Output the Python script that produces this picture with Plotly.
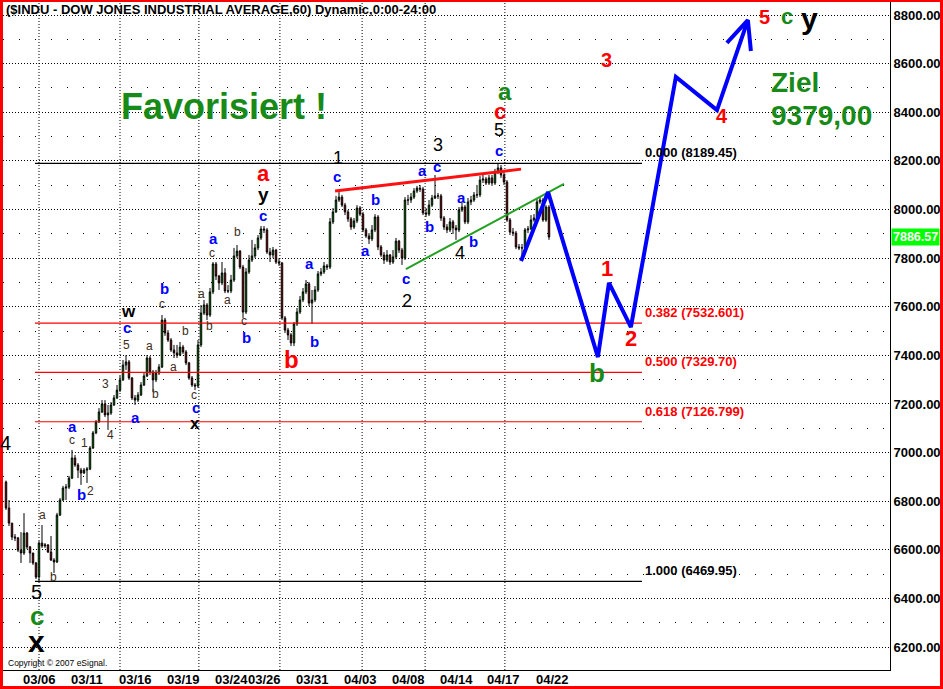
import plotly.graph_objects as go

# ---------------- data ----------------
first_open = 6879
closes = [6772, 6710, 6653, 6649, 6599, 6587, 6669, 6612, 6587, 6546,
          6488, 6628, 6616, 6620, 6591, 6558, 6550, 6743, 6805, 6854,
          6858, 6895, 6978, 6949, 6928, 6916, 6928, 6932, 7019, 7081,
          7126, 7167, 7200, 7155, 7163, 7196, 7225, 7257, 7299, 7360,
          7373, 7307, 7225, 7216, 7237, 7278, 7315, 7389, 7332, 7299,
          7327, 7352, 7545, 7492, 7463, 7422, 7410, 7401, 7434, 7414,
          7369, 7307, 7278, 7274, 7443, 7574, 7607, 7566, 7661, 7776,
          7726, 7698, 7739, 7665, 7665, 7710, 7809, 7829, 7763, 7578,
          7743, 7792, 7809, 7842, 7883, 7920, 7916, 7825, 7813, 7833,
          7784, 7780, 7554, 7504, 7484, 7451, 7529, 7578, 7628, 7661,
          7694, 7615, 7628, 7669, 7735, 7743, 7768, 7763, 7949, 7990,
          8039, 8051, 8018, 7990, 7961, 7928, 7953, 8006, 7981, 7916,
          7891, 7879, 7916, 7969, 7846, 7813, 7792, 7813, 7784, 7805,
          7870, 7833, 7800, 8039, 8039, 8051, 8076, 8088, 8084, 7986,
          7981, 8018, 8047, 8056, 8056, 7965, 7928, 7916, 7949, 7924,
          7916, 7998, 8010, 7949, 8031, 8039, 8060, 8060, 8121, 8125,
          8109, 8130, 8109, 8154, 8171, 8142, 8113, 7957, 7907, 7903,
          7846, 7842, 7842, 7916, 7920, 7957, 7965, 8031, 8039, 7957,
          8010, 7886.57]
highs = [6885, 6805, 6710, 6665, 6653, 6673, 6751, 6673, 6616, 6575,
         6550, 6636, 6702, 6628, 6624, 6657, 6566, 6752, 6813, 6863,
         6871, 6904, 7011, 6990, 6957, 6937, 6937, 6941, 7027, 7089,
         7134, 7183, 7216, 7216, 7196, 7208, 7237, 7278, 7315, 7381,
         7401, 7381, 7311, 7237, 7249, 7290, 7327, 7401, 7397, 7340,
         7340, 7364, 7566, 7554, 7504, 7471, 7443, 7443, 7455, 7443,
         7422, 7373, 7315, 7286, 7463, 7607, 7628, 7615, 7677, 7784,
         7784, 7731, 7784, 7759, 7689, 7731, 7842, 7854, 7833, 7772,
         7759, 7813, 7875, 7858, 7895, 7932, 7932, 7924, 7842, 7846,
         7838, 7800, 7784, 7562, 7513, 7492, 7537, 7595, 7644, 7677,
         7710, 7702, 7669, 7685, 7747, 7759, 7784, 7776, 7965, 8006,
         8056, 8076, 8060, 8027, 7998, 7969, 7965, 8018, 8014, 7990,
         7924, 7903, 7936, 7981, 7977, 7854, 7825, 7833, 7817, 7833,
         7883, 7875, 7842, 8051, 8060, 8068, 8088, 8097, 8101, 8093,
         8006, 8039, 8060, 8142, 8068, 8064, 7973, 7940, 7965, 7957,
         7936, 8010, 8031, 8018, 8047, 8056, 8072, 8101, 8138, 8142,
         8134, 8142, 8142, 8167, 8189.45, 8183, 8154, 8121, 7965, 7924,
         7912, 7858, 7858, 7924, 7932, 7977, 7981, 8043, 8051, 8047,
         8018, 8018]
lows = [6764, 6698, 6640, 6636, 6591, 6546, 6579, 6603, 6546, 6538,
        6480, 6469.95, 6608, 6608, 6587, 6554, 6505, 6546, 6739, 6801,
        6805, 6850, 6891, 6941, 6895, 6867, 6912, 6875, 6928, 7015,
        7076, 7122, 7163, 7146, 7093, 7155, 7192, 7220, 7249, 7295,
        7340, 7299, 7216, 7196, 7208, 7233, 7274, 7311, 7319, 7249,
        7290, 7319, 7348, 7480, 7455, 7414, 7389, 7389, 7397, 7406,
        7360, 7299, 7270, 7257, 7266, 7434, 7566, 7545, 7558, 7652,
        7710, 7669, 7689, 7656, 7656, 7656, 7702, 7800, 7755, 7554,
        7570, 7735, 7784, 7800, 7833, 7875, 7903, 7817, 7784, 7800,
        7776, 7768, 7545, 7492, 7463, 7438, 7438, 7521, 7570, 7619,
        7652, 7603, 7529, 7619, 7661, 7726, 7735, 7751, 7755, 7940,
        7986, 8031, 8010, 7977, 7949, 7916, 7920, 7944, 7973, 7907,
        7883, 7858, 7870, 7907, 7833, 7805, 7776, 7784, 7772, 7776,
        7796, 7821, 7772, 7792, 8018, 8027, 8043, 8068, 8072, 7977,
        7969, 7973, 8010, 8043, 8043, 7953, 7916, 7903, 7907, 7899,
        7875, 7907, 7990, 7940, 7940, 8018, 8031, 8047, 8051, 8109,
        8101, 8101, 8097, 8101, 8146, 8130, 8101, 7949, 7895, 7891,
        7837, 7833, 7800, 7833, 7903, 7916, 7949, 7957, 8023, 7949,
        7949, 7875]
opens = [first_open] + closes[:-1]
bar_idx = list(range(len(closes)))
last_price = 7886.57

tick_pos = [11, 27, 43, 59, 75, 86, 102.3, 118.3, 134.3, 150.3, 166, 182.3]
tick_text = ["03/06", "03/11", "03/16", "03/19", "03/24", "03/26", "03/31",
             "04/03", "04/08", "04/14", "04/17", "04/22"]
week_lines = [11, 38, 64.3, 91.3, 118.7, 139.7, 166.3]

fib_levels = [8189.45, 7532.601, 7329.70, 7126.799, 6469.95]
fib_text = ["0.000 (8189.45)", "0.382 (7532.601)", "0.500 (7329.70)",
            "0.618 (7126.799)", "1.000 (6469.95)"]
fib_colors = ["black", "red", "red", "red", "black"]
fib_span = [9.67, 212]

red_trend_x = [109.7, 171.7]
red_trend_y = [8076, 8166]
green_trend_x = [133.3, 186]
green_trend_y = [7755, 8105]
proj_x = [171.7, 180.7, 197.3, 201, 208.3, 223.3, 237, 247.3]
proj_y = [7788, 8072, 7393, 7698, 7516, 8545, 8409, 8779]
arrow_x = [240.3, 247.3, 248.3]
arrow_y = [8685, 8779, 8652]

BLUE = "#0000ff"
BROWN = "#3d2b1a"
RED = "#ff0000"
GREEN = "#178a17"
BLACK = "#000000"

# (text, x, y, color, size, bold)
wave_labels = [
    ("4", -0.3, 7039, BLACK, 20, False),
    ("5", 10.3, 6427, BLACK, 20, False),
    ("c", 10.3, 6326, GREEN, 26, True),
    ("x", 10.3, 6222, BLACK, 30, True),
    ("a", 12, 6743, BROWN, 12, False),
    ("b", 15.7, 6488, BROWN, 12, False),
    ("a", 22.3, 7109, BLUE, 15, True),
    ("c", 22, 7052, BROWN, 12, False),
    ("1", 26, 7039, BROWN, 12, False),
    ("b", 25.3, 6826, BLUE, 15, True),
    ("2", 28.3, 6842, BROWN, 12, False),
    ("4", 34.7, 7072, BROWN, 12, False),
    ("3", 33.3, 7282, BROWN, 12, False),
    ("a", 43, 7146, BLUE, 15, True),
    ("5", 40, 7443, BROWN, 12, False),
    ("c", 40.3, 7513, BLUE, 15, True),
    ("w", 40.7, 7582, BLACK, 17, True),
    ("b", 49.7, 7241, BROWN, 12, False),
    ("a", 47.7, 7438, BROWN, 12, False),
    ("b", 52.7, 7673, BLUE, 15, True),
    ("c", 52, 7611, BROWN, 12, False),
    ("a", 55.7, 7352, BROWN, 12, False),
    ("b", 59.7, 7500, BROWN, 12, False),
    ("c", 62.7, 7237, BROWN, 12, False),
    ("c", 63.3, 7185, BLUE, 15, True),
    ("x", 63, 7118, BLACK, 17, True),
    ("a", 65.3, 7652, BROWN, 12, False),
    ("b", 67.7, 7521, BROWN, 12, False),
    ("a", 69, 7879, BLUE, 15, True),
    ("c", 68.7, 7821, BROWN, 12, False),
    ("b", 77, 7907, BROWN, 12, False),
    ("a", 73.7, 7628, BROWN, 12, False),
    ("c", 79.3, 7541, BROWN, 12, False),
    ("b", 80, 7475, BLUE, 15, True),
    ("a", 85.7, 8150, RED, 22, True),
    ("y", 85.7, 8060, BLACK, 19, True),
    ("c", 85.7, 7977, BLUE, 15, True),
    ("a", 101, 7776, BLUE, 15, True),
    ("b", 95.3, 7381, RED, 24, True),
    ("b", 102.7, 7455, BLUE, 15, True),
    ("1", 110.7, 8212, BLACK, 18, False),
    ("c", 110.3, 8134, BLUE, 15, True),
    ("b", 123.3, 8043, BLUE, 15, True),
    ("a", 119.7, 7833, BLUE, 15, True),
    ("c", 133.3, 7718, BLUE, 15, True),
    ("2", 133.7, 7624, BLACK, 18, False),
    ("3", 144, 8265, BLACK, 18, False),
    ("a", 138.7, 8162, BLUE, 15, True),
    ("c", 143.7, 8175, BLUE, 15, True),
    ("b", 141.3, 7928, BLUE, 15, True),
    ("a", 151.7, 8051, BLUE, 15, True),
    ("b", 156, 7870, BLUE, 15, True),
    ("4", 151.3, 7821, BLACK, 18, False),
    ("c", 164.3, 8243, BLUE, 15, True),
    ("5", 164.3, 8325, BLACK, 18, False),
    ("c", 164.7, 8403, RED, 22, True),
    ("a", 166.3, 8485, GREEN, 24, True),
    ("1", 200.3, 7759, RED, 22, True),
    ("2", 208.3, 7471, RED, 22, True),
    ("b", 197, 7327, GREEN, 26, True),
    ("3", 200.3, 8615, RED, 20, True),
    ("4", 238.7, 8385, RED, 20, True),
    ("5", 252.7, 8792, RED, 20, True),
    ("c", 260.3, 8792, GREEN, 22, True),
    ("y", 268, 8784, BLACK, 30, True),
]

FONT = "Liberation Sans, Arial, sans-serif"

# ---------------- geometry helpers (figure pixels -> paper) ----------------
W, H = 943, 689
L, R, T, B = 3, 53, 2, 19
pw, ph = W - L - R, H - T - B


def px(xp):
    return (xp - L) / pw


def py(yp):
    return (H - B - yp) / ph


# ---------------- figure ----------------
fig = go.Figure()

for lvl, col in zip(fib_levels, fib_colors):
    fig.add_trace(go.Scatter(x=fib_span, y=[lvl, lvl], mode="lines",
                             line=dict(color=col, width=1.2), hoverinfo="skip"))

fig.add_trace(go.Candlestick(
    x=bar_idx, open=opens, high=highs, low=lows, close=closes,
    increasing=dict(line=dict(color="black", width=1), fillcolor="#00cc00"),
    decreasing=dict(line=dict(color="black", width=1), fillcolor="#ee0000"),
    whiskerwidth=0, hoverinfo="skip"))

fig.add_trace(go.Scatter(x=red_trend_x, y=red_trend_y, mode="lines",
                         line=dict(color="#ff1010", width=3), hoverinfo="skip"))
fig.add_trace(go.Scatter(x=green_trend_x, y=green_trend_y, mode="lines",
                         line=dict(color="#22a022", width=2), hoverinfo="skip"))
fig.add_trace(go.Scatter(x=proj_x, y=proj_y, mode="lines",
                         line=dict(color="#0000ff", width=4), hoverinfo="skip"))
fig.add_trace(go.Scatter(x=arrow_x, y=arrow_y, mode="lines",
                         line=dict(color="#0000ff", width=4), hoverinfo="skip"))

for wx in week_lines:
    fig.add_vline(x=wx, line=dict(color="black", width=1, dash="1px,2px"), layer="below")

# date labels under the axis
for tp, tt in zip(tick_pos, tick_text):
    fig.add_annotation(x=tp, xref="x", yref="paper", y=py(679), text="<b>%s</b>" % tt,
                       showarrow=False, xanchor="center", yanchor="middle",
                       font=dict(family=FONT, size=13, color="black"))

# fib labels
for lvl, txt, col in zip(fib_levels, fib_text, fib_colors):
    fig.add_annotation(x=212.3, y=lvl, text="<b>%s</b>" % txt, showarrow=False,
                       xanchor="left", yanchor="bottom", yshift=1,
                       font=dict(family=FONT, size=13, color=col))

for txt, xx, yy, col, sz, bold in wave_labels:
    t = "<b>%s</b>" % txt if bold else txt
    fig.add_annotation(x=xx, y=yy, text=t, showarrow=False, xanchor="center",
                       yanchor="middle", font=dict(family=FONT, size=sz, color=col))

fig.add_annotation(x=37.7, y=8422, text="<b>Favorisiert !</b>", showarrow=False,
                   xanchor="left", yanchor="middle",
                   font=dict(family=FONT, size=36, color=GREEN))
fig.add_annotation(x=254.3, y=8524, text="<b>Ziel</b>", showarrow=False,
                   xanchor="left", yanchor="middle",
                   font=dict(family=FONT, size=28, color=GREEN))
fig.add_annotation(x=254.3, y=8385, text="<b>9379,00</b>", showarrow=False,
                   xanchor="left", yanchor="middle",
                   font=dict(family=FONT, size=28, color=GREEN))

# title / copyright / last price
fig.add_annotation(xref="paper", yref="paper", x=px(4), y=py(9),
                   text="<b>($INDU - DOW JONES INDUSTRIAL AVERAGE,60) Dynamic,0:00-24:00</b>",
                   showarrow=False, xanchor="left", yanchor="middle",
                   font=dict(family=FONT, size=13, color="black"))
fig.add_annotation(xref="paper", yref="paper", x=px(6), y=py(663),
                   text="Copyright \u00a9 2007 eSignal.", showarrow=False,
                   xanchor="left", yanchor="middle",
                   font=dict(family=FONT, size=8.5, color="black"))
fig.add_annotation(xref="paper", yref="y", x=px(891), y=last_price,
                   text="<b>%.2f</b>" % last_price, showarrow=False,
                   xanchor="left", yanchor="middle", bgcolor="#00ff00",
                   borderpad=1, font=dict(family=FONT, size=12.5, color="white"))

# red frame around the image
for (x0, y0, x1, y1) in [(0, 0, 3, H), (0, 0, W, 2), (W - 3, 0, W, H), (0, H - 3, W, H)]:
    fig.add_shape(type="rect", xref="paper", yref="paper",
                  x0=px(x0), x1=px(x1), y0=py(y1), y1=py(y0),
                  fillcolor="#ff0000", line=dict(width=0), layer="above")

fig.update_layout(
    width=W, height=H, margin=dict(l=L, r=R, t=T, b=B),
    paper_bgcolor="white", plot_bgcolor="white", showlegend=False,
    font=dict(family=FONT, color="black"),
    xaxis=dict(range=[-1, 294.67], showgrid=False, zeroline=False,
               showticklabels=False,
               showline=True, linecolor="black", linewidth=1, ticks="",
               rangeslider=dict(visible=False), automargin=False, fixedrange=True),
    yaxis=dict(range=[6105.7, 8853.5], side="right", tick0=6200, dtick=200,
               tickformat=".2f", showgrid=True, gridcolor="black", gridwidth=1,
               griddash="1px,2px", zeroline=False, showline=True, linecolor="black",
               linewidth=1, ticks="",
               tickfont=dict(family=FONT, size=13, color="black", weight="bold"),
               minor=dict(tick0=6100, dtick=100, showgrid=True, gridcolor="black",
                          gridwidth=1, griddash="1px,15px"),
               automargin=False, fixedrange=True),
)

fig.write_html("out.html", config={"displayModeBar": False},
               post_script="document.body.style.margin='0px';document.body.style.overflow='hidden';")
